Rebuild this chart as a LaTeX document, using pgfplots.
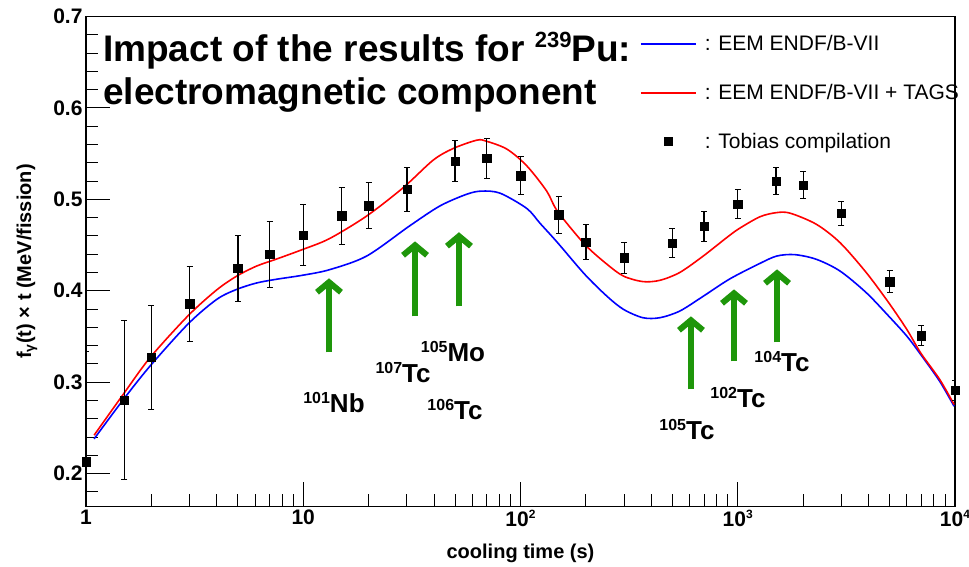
\documentclass[border=0pt]{standalone}
\usepackage{fontspec}
\setmainfont{Liberation Sans}
\usepackage{pgfplots}
\pgfplotsset{compat=1.18}
\usepackage{pgfplotstable}
\usetikzlibrary{arrows.meta}
\definecolor{arrgreen}{RGB}{30,150,10}
\newcommand\sups[2]{\raisebox{#2}{\fontsize{16}{16}\selectfont #1}}
\newcommand\tsup[1]{\raisebox{8pt}{\fontsize{12}{12}\selectfont #1}}

\pgfplotstableread{
t v e
1 0.213 0.12
1.5 0.280 0.087
2 0.327 0.057
3 0.386 0.041
5 0.4245 0.036
7 0.440 0.036
10 0.461 0.033
15 0.482 0.031
20 0.493 0.025
30 0.511 0.024
50 0.542 0.022
70 0.545 0.022
100 0.526 0.021
150 0.483 0.020
200 0.453 0.019
300 0.436 0.017
500 0.452 0.016
700 0.4705 0.0165
1000 0.4946 0.0157
1500 0.520 0.0146
2000 0.5155 0.0146
3000 0.4848 0.0133
5000 0.410 0.0124
7000 0.351 0.011
10000 0.291 0.011
}\tobias

\pgfplotstableread{
t v
1.09 0.238
1.475 0.280
1.97 0.3175
2.96 0.364
4.0 0.3906
4.94 0.4015
6.1 0.4085
7.5 0.4125
9.9 0.4169
13.2 0.423
19.6 0.438
30.9 0.471
42.6 0.4928
56.6 0.5056
66.3 0.509
80.6 0.5067
106.9 0.49
123 0.4738
148 0.4527
197.5 0.418
250 0.394
298 0.3796
366 0.3705
438 0.3705
541 0.3778
694 0.394
920 0.413
1267 0.43
1514 0.438
1830 0.4395
2300 0.4344
2954 0.4216
3900 0.398
4950 0.3723
6000 0.3504
6950 0.3303
8500 0.301
9900 0.2737
}\eemblue

\pgfplotstableread{
t v
1.09 0.242
1.475 0.2858
1.97 0.3267
2.96 0.373
4.0 0.401
4.94 0.416
6.1 0.427
7.5 0.4345
9.9 0.445
13.2 0.457
19.6 0.4818
28.9 0.5129
39.6 0.5428
49 0.5556
62.9 0.5647
69.6 0.5636
86.6 0.5549
106.9 0.5366
132 0.509
148 0.487
197.5 0.4508
250 0.429
298 0.416
366 0.41
438 0.4114
541 0.42
694 0.438
888 0.458
1015 0.468
1267 0.481
1514 0.4855
1746 0.4848
2300 0.4727
2954 0.4527
3900 0.42
4950 0.387
6000 0.3577
6950 0.332
8500 0.303
9900 0.2756
}\eemred

\begin{document}
\begin{tikzpicture}
\path[use as bounding box] (-86pt,-60.5pt) rectangle (883pt,506.5pt);
\begin{axis}[
  at={(0pt,0pt)}, anchor=south west, scale only axis,
  width=869pt, height=490pt,
  xmode=log, xmin=1, xmax=10000, ymin=0.164, ymax=0.7,
  axis line style={line width=1.5pt},
  tick pos=left,
  xtick={1,10,100,1000,10000},
  xticklabels={1,10,10\tsup{2},10\tsup{3},10\tsup{4}},
  minor xtick={2,3,4,5,6,7,8,9,20,30,40,50,60,70,80,90,200,300,400,500,600,700,800,900,2000,3000,4000,5000,6000,7000,8000,9000},
  ytick={0.2,0.3,0.4,0.5,0.6,0.7},
  yticklabels={0.2,0.3,0.4,0.5,0.6,0.7},
  minor ytick={0.18,0.22,0.24,0.26,0.28,0.32,0.34,0.36,0.38,0.42,0.44,0.46,0.48,0.52,0.54,0.56,0.58,0.62,0.64,0.66,0.68},
  major tick length=24pt, minor tick length=12pt,
  every tick/.style={black, line width=1pt},
  tick label style={font=\bfseries\fontsize{21}{21}\selectfont},
  /pgf/number format/assume math mode=true,
  xlabel={cooling time (s)},
  ylabel={f\textsubscript{γ}(t) × t (MeV/fission)},
  label style={font=\bfseries\fontsize{20}{22}\selectfont},
  xlabel style={at={(axis description cs:0.5,-0.095)}, anchor=center},
  ylabel style={at={(axis description cs:-0.068,0.5)}, anchor=center},
  legend style={draw=none, fill=none, at={(axis description cs:0.634,1)},
    anchor=north west, yshift=-15pt, font=\fontsize{21}{21}\selectfont,
    row sep=28pt, column sep=6pt},
  legend cell align=left,
  legend image code/.code={\draw[mark repeat=2,mark phase=2,#1] plot coordinates {(0pt,0pt) (27.5pt,0pt) (55pt,0pt)};},
]
\addplot[blue, line width=1.6pt, smooth] table[x=t,y=v] {\eemblue};
\addlegendentry{\strut: EEM ENDF/B-VII}
\addplot[red, line width=1.6pt, smooth] table[x=t,y=v] {\eemred};
\addlegendentry{\strut: EEM ENDF/B-VII + TAGS}
\addplot[black, only marks, mark=square*, mark size=4.2pt,
  error bars/.cd, y dir=both, y explicit,
  error bar style={line width=1.3pt, black},
  error mark options={rotate=90, mark size=3pt, line width=1pt, black}]
  table[x=t,y=v,y error=e] {\tobias};
\addlegendentry{\strut: Tobias compilation}

\tikzset{garrow/.style={arrgreen, line width=6pt, -{Straight Barb[length=10pt,width=24pt]}}}
\draw[garrow] (axis cs:13.14,0.3325) -- (axis cs:13.14,0.4136);
\draw[garrow] (axis cs:32.7,0.372) -- (axis cs:32.7,0.454);
\draw[garrow] (axis cs:52.1,0.383) -- (axis cs:52.1,0.464);
\draw[garrow] (axis cs:609,0.292) -- (axis cs:609,0.372);
\draw[garrow] (axis cs:961,0.3227) -- (axis cs:961,0.4015);
\draw[garrow] (axis cs:1517,0.3435) -- (axis cs:1517,0.4234);

\tikzset{nuc/.style={font=\bfseries\fontsize{26}{26}\selectfont, inner sep=0pt}}
\node[nuc] at (axis cs:13.85,0.2778) {\sups{101}{9pt}Nb};
\node[nuc] at (axis cs:28.8,0.3106) {\sups{107}{9pt}Tc};
\node[nuc] at (axis cs:48.9,0.3336) {\sups{105}{9pt}Mo};
\node[nuc] at (axis cs:49.96,0.270) {\sups{106}{9pt}Tc};
\node[nuc] at (axis cs:584,0.248) {\sups{105}{9pt}Tc};
\node[nuc] at (axis cs:1002,0.283) {\sups{102}{9pt}Tc};
\node[nuc] at (axis cs:1599,0.3227) {\sups{104}{9pt}Tc};
\end{axis}
\node[anchor=base west, inner sep=0pt, font=\bfseries\fontsize{37}{37}\selectfont] at (17pt,444.5pt) {Impact of the results for \raisebox{14pt}{\fontsize{22}{22}\selectfont 239}Pu:};
\node[anchor=base west, inner sep=0pt, font=\bfseries\fontsize{37}{37}\selectfont] at (17pt,401.5pt) {electromagnetic component};
\end{tikzpicture}
\end{document}
